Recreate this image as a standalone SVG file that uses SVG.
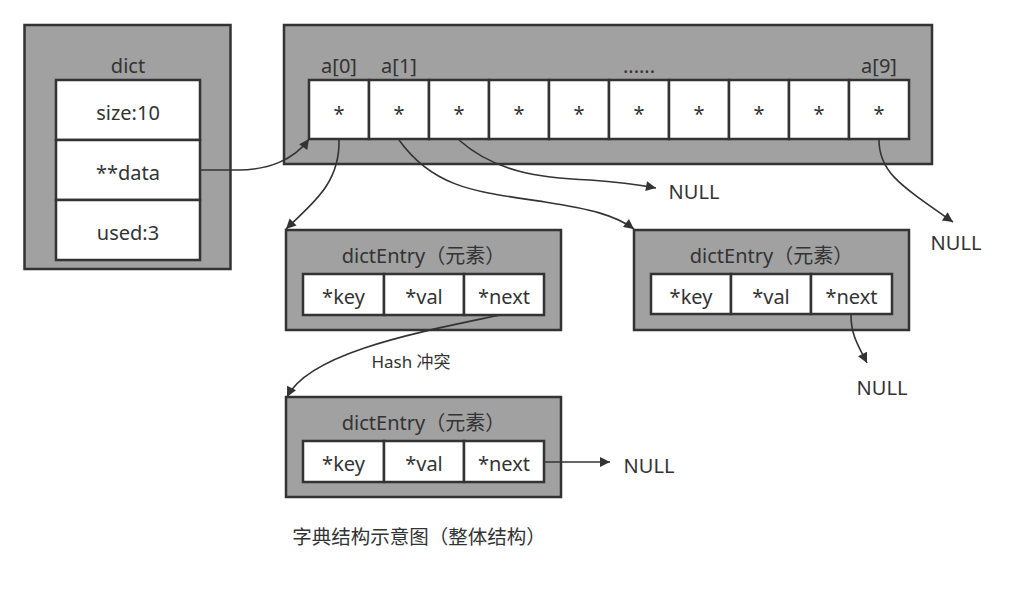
<svg xmlns="http://www.w3.org/2000/svg" width="1017" height="595" viewBox="0 0 1017 595">
<defs>
<style>
.outer{fill:#a1a1a1;stroke:#333;stroke-width:2.5}
.cell{fill:#fff;stroke:#333;stroke-width:2.5}
.t{font-family:"Noto Sans","Noto Sans CJK SC",sans-serif;font-size:20px;fill:#333;text-anchor:middle}
.c{fill:none;stroke:#333;stroke-width:1.6}
</style>
<marker id="ah" viewBox="0 0 10 10" refX="10" refY="5" markerWidth="17" markerHeight="10" markerUnits="userSpaceOnUse" orient="auto">
<path d="M0,0 L10,5 L0,10 z" fill="#333"/>
</marker>
</defs>
<rect width="1017" height="595" fill="#fff"/>

<g id="dict">
<rect class="outer" x="24.5" y="25" width="206" height="244"/>
<text class="t" x="128" y="73">dict</text>
<rect class="cell" x="56" y="80" width="144" height="60"/>
<rect class="cell" x="56" y="140" width="144" height="60"/>
<rect class="cell" x="56" y="200" width="144" height="60"/>
<text class="t" x="128" y="120">size:10</text>
<text class="t" x="128" y="180">**data</text>
<text class="t" x="128" y="240">used:3</text>
</g>

<g id="array">
<rect class="outer" x="284" y="25" width="648" height="139"/>
<text class="t" x="339" y="73">a[0]</text>
<text class="t" x="399" y="73">a[1]</text>
<text class="t" x="639" y="73">......</text>
<text class="t" x="879" y="73">a[9]</text>
<rect class="cell" x="309" y="80" width="60" height="59"/>
<rect class="cell" x="369" y="80" width="60" height="59"/>
<rect class="cell" x="429" y="80" width="60" height="59"/>
<rect class="cell" x="489" y="80" width="60" height="59"/>
<rect class="cell" x="549" y="80" width="60" height="59"/>
<rect class="cell" x="609" y="80" width="60" height="59"/>
<rect class="cell" x="669" y="80" width="60" height="59"/>
<rect class="cell" x="729" y="80" width="60" height="59"/>
<rect class="cell" x="789" y="80" width="60" height="59"/>
<rect class="cell" x="849" y="80" width="60" height="59"/>
<text class="t" x="339" y="121">*</text>
<text class="t" x="399" y="121">*</text>
<text class="t" x="459" y="121">*</text>
<text class="t" x="519" y="121">*</text>
<text class="t" x="579" y="121">*</text>
<text class="t" x="639" y="121">*</text>
<text class="t" x="699" y="121">*</text>
<text class="t" x="759" y="121">*</text>
<text class="t" x="819" y="121">*</text>
<text class="t" x="879" y="121">*</text>
</g>

<g id="entry1">
<rect class="outer" x="286" y="230" width="275" height="100"/>
<text class="t" x="423.5" y="263">dictEntry（元素）</text>
<rect class="cell" x="303" y="274" width="81" height="41"/>
<rect class="cell" x="384" y="274" width="80" height="41"/>
<rect class="cell" x="464" y="274" width="80" height="41"/>
<text class="t" x="343.5" y="304">*key</text>
<text class="t" x="424" y="304">*val</text>
<text class="t" x="504" y="304">*next</text>
</g>

<g id="entry2">
<rect class="outer" x="634" y="230" width="275" height="100"/>
<text class="t" x="771.5" y="263">dictEntry（元素）</text>
<rect class="cell" x="651" y="274" width="80" height="40"/>
<rect class="cell" x="731" y="274" width="80" height="40"/>
<rect class="cell" x="811" y="274" width="81" height="40"/>
<text class="t" x="691" y="304">*key</text>
<text class="t" x="771" y="304">*val</text>
<text class="t" x="851.5" y="304">*next</text>
</g>

<g id="entry3">
<rect class="outer" x="286" y="397" width="275" height="100"/>
<text class="t" x="423.5" y="430">dictEntry（元素）</text>
<rect class="cell" x="303" y="441" width="81" height="41"/>
<rect class="cell" x="384" y="441" width="80" height="41"/>
<rect class="cell" x="464" y="441" width="80" height="41"/>
<text class="t" x="343.5" y="471">*key</text>
<text class="t" x="424" y="471">*val</text>
<text class="t" x="504" y="471">*next</text>
</g>

<g id="nulls">
<text class="t" x="694" y="199">NULL</text>
<text class="t" x="956" y="250">NULL</text>
<text class="t" x="882" y="395">NULL</text>
<text class="t" x="649" y="473">NULL</text>
</g>

<g id="connectors">
<path class="c" marker-end="url(#ah)" d="M200,170 L238,170 C268,170 294,160 309,139"/>
<path class="c" marker-end="url(#ah)" d="M339,140 C340,185 310,205 286,229"/>
<path class="c" marker-end="url(#ah)" d="M399,140 C435,190 480,192 545,202 C590,209 615,215 634,229"/>
<path class="c" marker-end="url(#ah)" d="M459,140 C495,172 540,178 590,180 C620,182 640,185 656,188"/>
<path class="c" marker-end="url(#ah)" d="M879,140 C879,172 900,185 953,222"/>
<path class="c" marker-end="url(#ah)" d="M851,315 C851,335 858,345 867,363"/>
<path class="c" marker-end="url(#ah)" d="M500,315 C420,332 310,352 287,397"/>
<path class="c" marker-end="url(#ah)" d="M544,462 L610,462"/>
<text class="t" x="411" y="368" style="font-size:17px">Hash 冲突</text>
</g>

<text class="t" x="419" y="544" style="font-family:'Noto Sans CJK SC',sans-serif;font-size:19.5px">字典结构示意图（整体结构）</text>
</svg>
